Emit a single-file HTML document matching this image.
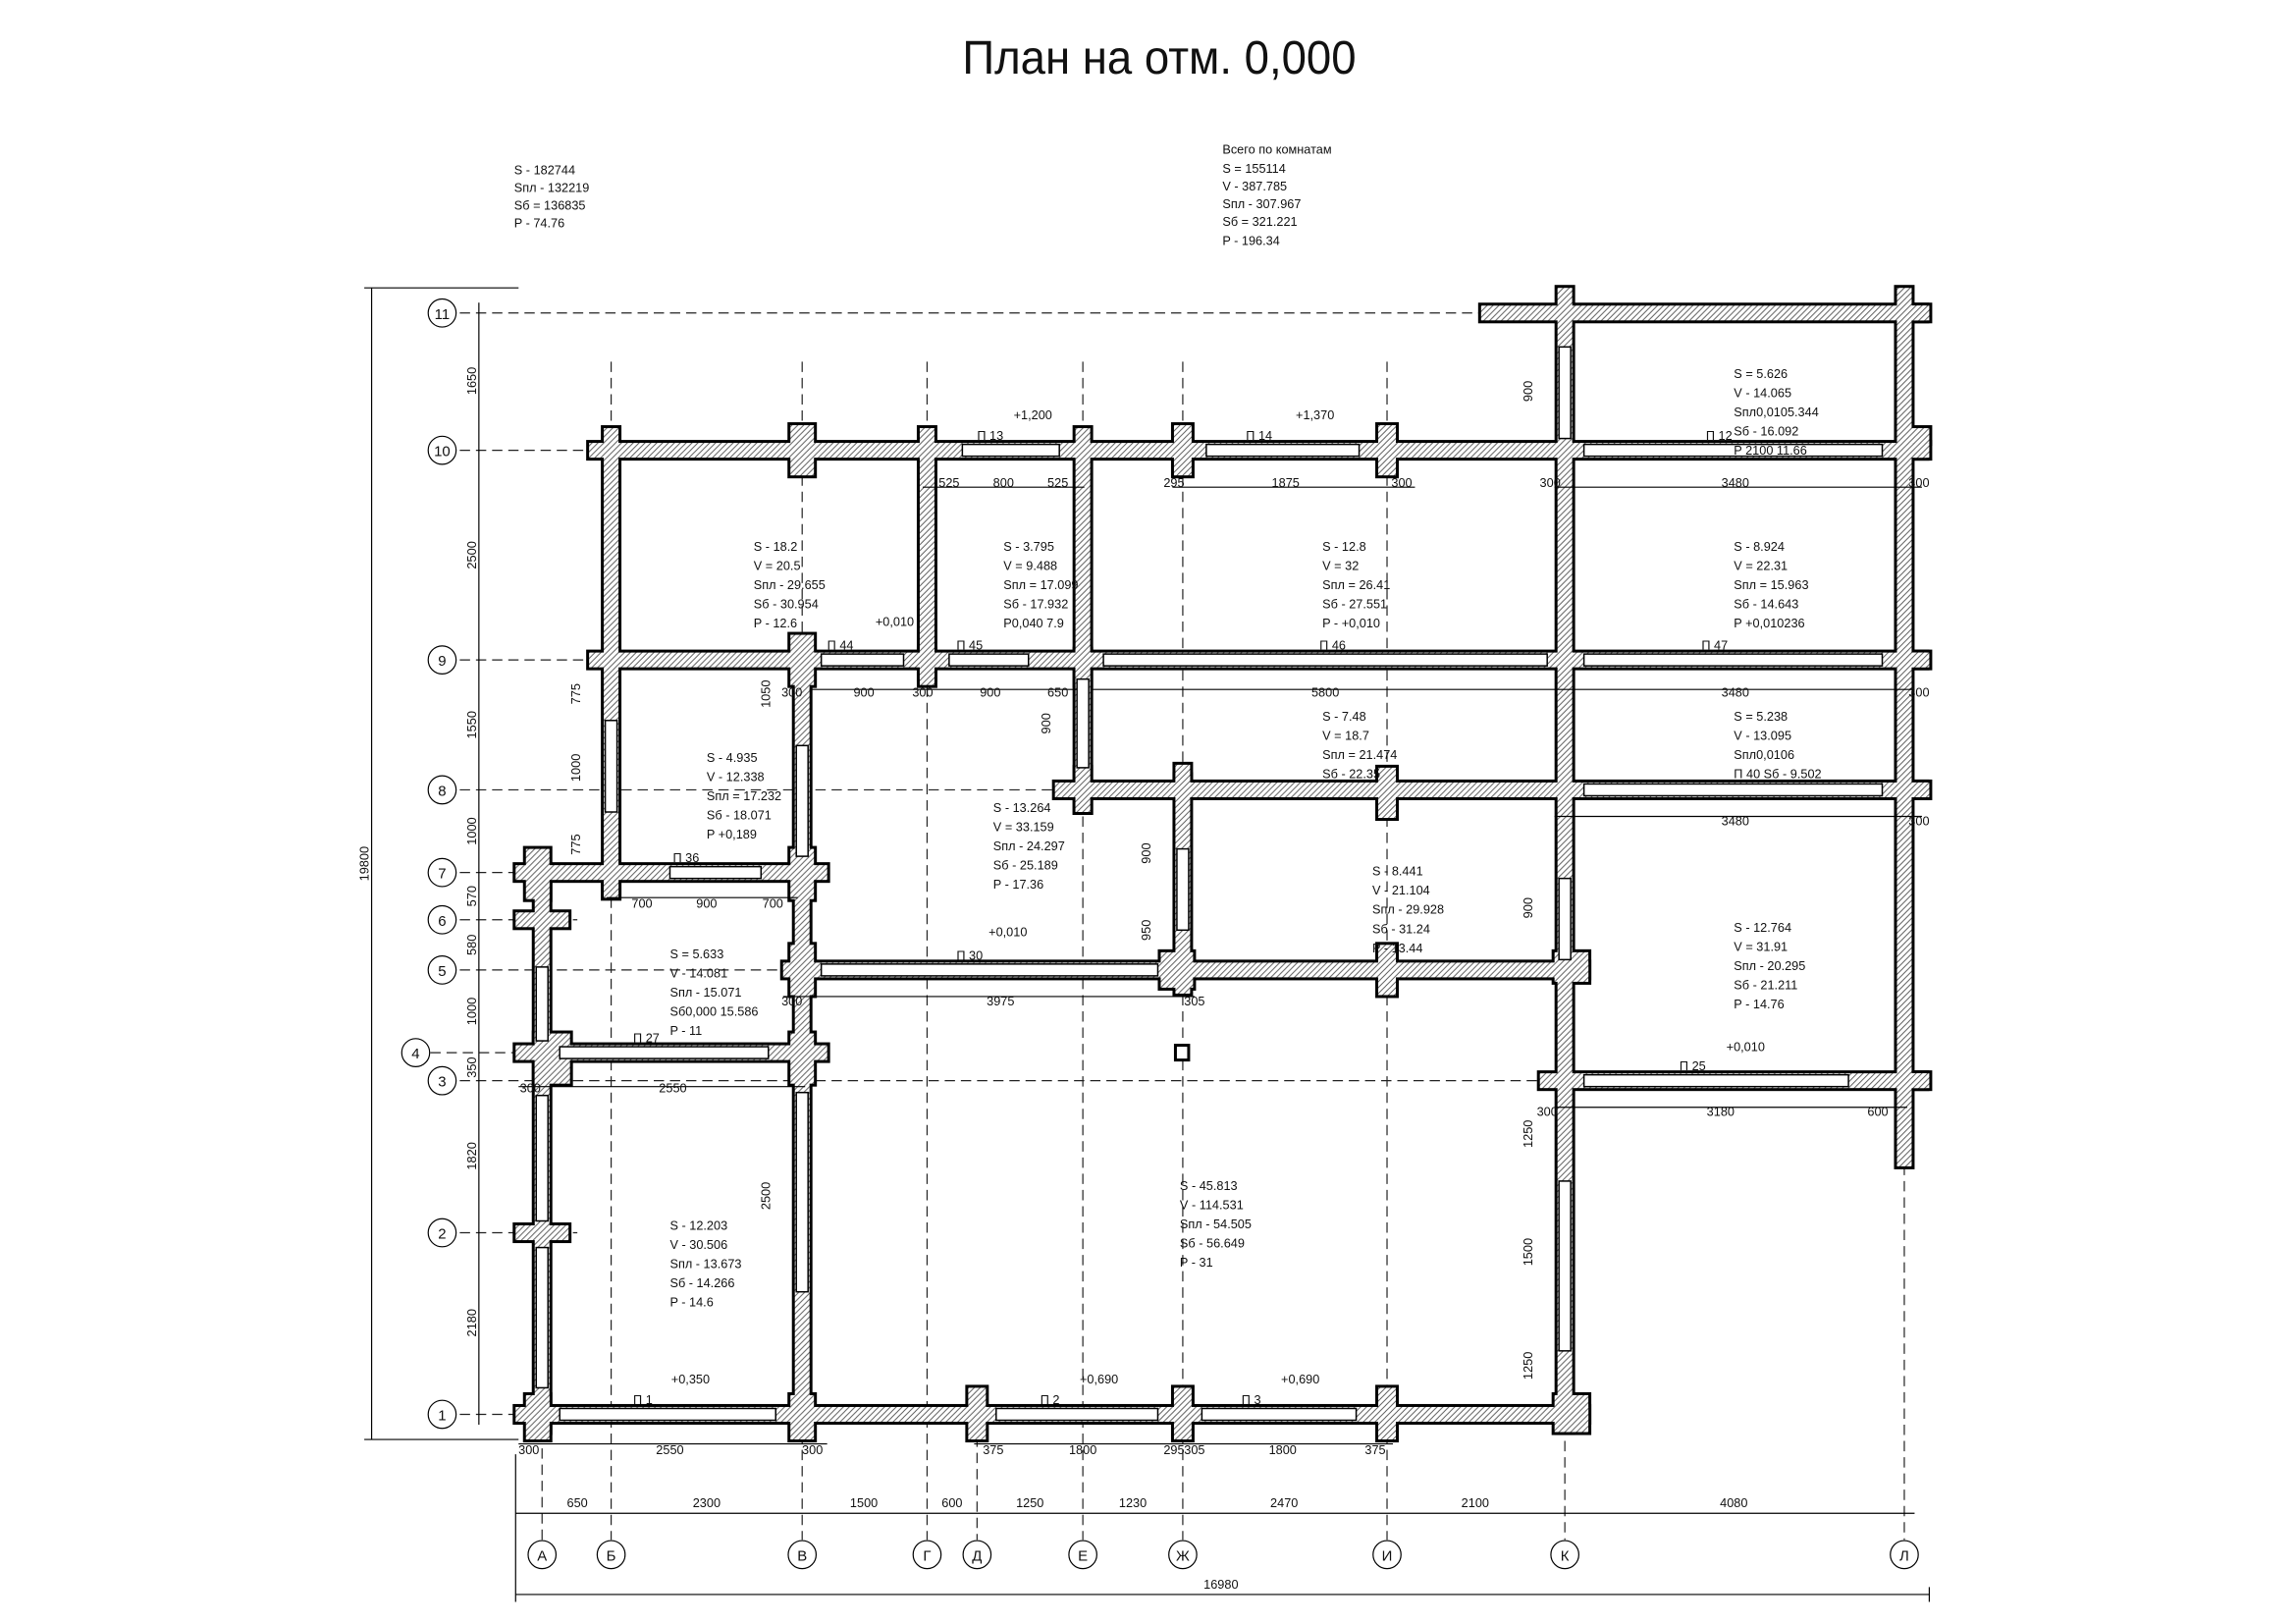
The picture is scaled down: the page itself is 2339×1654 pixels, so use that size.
<!DOCTYPE html>
<html><head><meta charset="utf-8"><style>
html,body{margin:0;padding:0;background:#fff;}
svg{display:block}
text{font-family:"Liberation Sans Narrow","Liberation Sans",sans-serif;fill:#111;}
</style></head><body>
<svg width="2339" height="1654" viewBox="0 0 1549 1100" preserveAspectRatio="none" xmlns="http://www.w3.org/2000/svg">
<defs>
<pattern id="h" patternUnits="userSpaceOnUse" width="4" height="4">
<rect width="4" height="4" fill="#fff"/>
<path d="M-1,1 L1,-1 M0,4 L4,0 M3,5 L5,3" stroke="#555" stroke-width="0.6"/>
</pattern>
<g id="w">
<rect x="398" y="300" width="910" height="10"/>
<rect x="1005" y="207" width="303" height="10"/>
<rect x="398" y="442" width="910" height="10"/>
<rect x="715" y="530" width="593" height="10"/>
<rect x="348" y="586" width="212" height="10"/>
<rect x="530" y="652" width="548" height="10"/>
<rect x="348" y="708" width="212" height="10"/>
<rect x="1045" y="727" width="263" height="10"/>
<rect x="348" y="953" width="730" height="10"/>
<rect x="408" y="290" width="10" height="318"/>
<rect x="538" y="440" width="10" height="530"/>
<rect x="361" y="586" width="10" height="384"/>
<rect x="623" y="290" width="10" height="170"/>
<rect x="729" y="290" width="10" height="260"/>
<rect x="797" y="525" width="10" height="148"/>
<rect x="1057" y="195" width="10" height="775"/>
<rect x="1288" y="195" width="10" height="595"/>
<rect x="535" y="288" width="16" height="34"/>
<rect x="935" y="288" width="12" height="34"/>
<rect x="796" y="288" width="12" height="34"/>
<rect x="1288" y="290" width="22" height="10"/>
<rect x="1288" y="442" width="22" height="10"/>
<rect x="1288" y="530" width="22" height="10"/>
<rect x="1288" y="727" width="22" height="10"/>
<rect x="1288" y="207" width="22" height="10"/>
<rect x="1300" y="300" width="10" height="10"/>
<rect x="535" y="430" width="16" height="34"/>
<rect x="623" y="440" width="10" height="24"/>
<rect x="729" y="440" width="10" height="24"/>
<rect x="935" y="520" width="12" height="34"/>
<rect x="797" y="518" width="10" height="20"/>
<rect x="729" y="520" width="10" height="30"/>
<rect x="408" y="590" width="10" height="18"/>
<rect x="535" y="575" width="16" height="34"/>
<rect x="355" y="575" width="16" height="34"/>
<rect x="348" y="618" width="36" height="10"/>
<rect x="535" y="640" width="16" height="34"/>
<rect x="787" y="645" width="22" height="24"/>
<rect x="935" y="640" width="12" height="34"/>
<rect x="1055" y="645" width="23" height="20"/>
<rect x="535" y="700" width="16" height="34"/>
<rect x="361" y="700" width="24" height="34"/>
<rect x="348" y="830" width="36" height="10"/>
<rect x="355" y="945" width="16" height="30"/>
<rect x="535" y="945" width="16" height="30"/>
<rect x="656" y="940" width="12" height="35"/>
<rect x="796" y="940" width="12" height="35"/>
<rect x="935" y="940" width="12" height="35"/>
<rect x="1055" y="945" width="23" height="25"/>
</g>
</defs>

<g transform="matrix(0.9914 0 0 1 2.86 0)">
<text x="786" y="50" font-size="32" text-anchor="middle" textLength="268" lengthAdjust="spacingAndGlyphs" fill="#444">План на отм. 0,000</text>

<g font-size="8.5">
<text x="347" y="118">S  -  182744</text>
<text x="347" y="130">Sпл -  132219</text>
<text x="347" y="142">Sб  =  136835</text>
<text x="347" y="154">P  -  74.76</text>
<text x="829" y="104">Всего по комнатам</text>
<text x="829" y="117">S  =  155114</text>
<text x="829" y="129">V  -  387.785</text>
<text x="829" y="141">Sпл -  307.967</text>
<text x="829" y="153">Sб  =  321.221</text>
<text x="829" y="166">P  -  196.34</text>
</g>

<g stroke="#222" stroke-width="0.8" stroke-dasharray="7,4" fill="none">
<line x1="310" y1="212" x2="1300" y2="212"/>
<line x1="310" y1="305" x2="1310" y2="305"/>
<line x1="310" y1="447" x2="1310" y2="447"/>
<line x1="310" y1="535" x2="1310" y2="535"/>
<line x1="310" y1="591" x2="560" y2="591"/>
<line x1="310" y1="623" x2="390" y2="623"/>
<line x1="310" y1="657" x2="1080" y2="657"/>
<line x1="290" y1="713" x2="560" y2="713"/>
<line x1="310" y1="732" x2="1310" y2="732"/>
<line x1="310" y1="835" x2="390" y2="835"/>
<line x1="310" y1="958" x2="1080" y2="958"/>
<line x1="366" y1="585" x2="366" y2="1043"/>
<line x1="413" y1="245" x2="413" y2="1043"/>
<line x1="543" y1="245" x2="543" y2="1043"/>
<line x1="628" y1="245" x2="628" y2="1043"/>
<line x1="662" y1="940" x2="662" y2="1043"/>
<line x1="734" y1="245" x2="734" y2="1043"/>
<line x1="802" y1="245" x2="802" y2="1043"/>
<line x1="941" y1="245" x2="941" y2="1043"/>
<line x1="1062" y1="195" x2="1062" y2="1043"/>
<line x1="1293" y1="745" x2="1293" y2="1043"/>
</g>

<use href="#w" fill="#000" stroke="#000" stroke-width="4"/>
<use href="#w" fill="url(#h)"/>

<g fill="#fff" stroke="#000" stroke-width="1">
<rect x="652" y="301" width="66" height="8"/>
<rect x="818" y="301" width="104" height="8"/>
<rect x="1075" y="301" width="203" height="8"/>
<rect x="556" y="443" width="56" height="8"/>
<rect x="643" y="443" width="54" height="8"/>
<rect x="748" y="443" width="302" height="8"/>
<rect x="1075" y="443" width="203" height="8"/>
<rect x="1075" y="531" width="203" height="8"/>
<rect x="1075" y="728" width="180" height="8"/>
<rect x="453" y="587" width="62" height="8"/>
<rect x="378" y="709" width="142" height="8"/>
<rect x="556" y="653" width="229" height="8"/>
<rect x="378" y="954" width="147" height="8"/>
<rect x="675" y="954" width="110" height="8"/>
<rect x="815" y="954" width="105" height="8"/>
<rect x="409" y="488" width="8" height="62"/>
<rect x="362" y="655" width="8" height="50"/>
<rect x="362" y="742" width="8" height="85"/>
<rect x="362" y="845" width="8" height="95"/>
<rect x="539" y="505" width="8" height="75"/>
<rect x="539" y="740" width="8" height="135"/>
<rect x="730" y="460" width="8" height="60"/>
<rect x="798" y="575" width="8" height="55"/>
<rect x="1058" y="235" width="8" height="62"/>
<rect x="1058" y="595" width="8" height="55"/>
<rect x="1058" y="800" width="8" height="115"/>
</g>
<rect x="797" y="708" width="9" height="10" fill="#fff" stroke="#000" stroke-width="2"/>

<g fill="#fff" stroke="#000" stroke-width="0.8">
<circle cx="298" cy="212" r="9.5"/><circle cx="298" cy="305" r="9.5"/>
<circle cx="298" cy="447" r="9.5"/><circle cx="298" cy="535" r="9.5"/>
<circle cx="298" cy="591" r="9.5"/><circle cx="298" cy="623" r="9.5"/>
<circle cx="298" cy="657" r="9.5"/><circle cx="280" cy="713" r="9.5"/>
<circle cx="298" cy="732" r="9.5"/><circle cx="298" cy="835" r="9.5"/>
<circle cx="298" cy="958" r="9.5"/>
<circle cx="366" cy="1053" r="9.5"/><circle cx="413" cy="1053" r="9.5"/>
<circle cx="543" cy="1053" r="9.5"/><circle cx="628" cy="1053" r="9.5"/>
<circle cx="662" cy="1053" r="9.5"/><circle cx="734" cy="1053" r="9.5"/>
<circle cx="802" cy="1053" r="9.5"/><circle cx="941" cy="1053" r="9.5"/>
<circle cx="1062" cy="1053" r="9.5"/><circle cx="1293" cy="1053" r="9.5"/>
</g>
<g font-size="10" text-anchor="middle">
<text x="298" y="216">11</text><text x="298" y="309">10</text><text x="298" y="451">9</text>
<text x="298" y="539">8</text><text x="298" y="595">7</text><text x="298" y="627">6</text>
<text x="298" y="661">5</text><text x="280" y="717">4</text><text x="298" y="736">3</text>
<text x="298" y="839">2</text><text x="298" y="962">1</text>
<text x="366" y="1057">А</text><text x="413" y="1057">Б</text><text x="543" y="1057">В</text>
<text x="628" y="1057">Г</text><text x="662" y="1057">Д</text><text x="734" y="1057">Е</text>
<text x="802" y="1057">Ж</text><text x="941" y="1057">И</text><text x="1062" y="1057">К</text>
<text x="1293" y="1057">Л</text>
</g>

<g stroke="#000" stroke-width="0.8" fill="none">
<line x1="348" y1="1025" x2="1300" y2="1025"/>
<line x1="348" y1="1080" x2="1310" y2="1080"/>
<line x1="348" y1="985" x2="348" y2="1085"/>
<line x1="1310" y1="1075" x2="1310" y2="1085"/>
<line x1="323" y1="205" x2="323" y2="965"/>
<line x1="250" y1="195" x2="250" y2="975"/>
<line x1="245" y1="195" x2="350" y2="195"/>
<line x1="245" y1="975" x2="350" y2="975"/>
<line x1="350" y1="978" x2="560" y2="978"/>
<line x1="660" y1="978" x2="945" y2="978"/>
<line x1="548" y1="467" x2="730" y2="467"/>
<line x1="740" y1="467" x2="1300" y2="467"/>
<line x1="625" y1="330" x2="735" y2="330"/>
<line x1="795" y1="330" x2="960" y2="330"/>
<line x1="1055" y1="330" x2="1305" y2="330"/>
<line x1="1055" y1="553" x2="1305" y2="553"/>
<line x1="1055" y1="750" x2="1295" y2="750"/>
<line x1="410" y1="608" x2="540" y2="608"/>
<line x1="350" y1="736" x2="545" y2="736"/>
<line x1="530" y1="675" x2="810" y2="675"/>
</g>
<g font-size="8.5" text-anchor="middle">
<text x="390" y="1021">650</text><text x="478" y="1021">2300</text><text x="585" y="1021">1500</text>
<text x="645" y="1021">600</text><text x="698" y="1021">1250</text><text x="768" y="1021">1230</text>
<text x="871" y="1021">2470</text><text x="1001" y="1021">2100</text><text x="1177" y="1021">4080</text>
<text x="828" y="1076">16980</text>
<text x="357" y="985">300</text><text x="453" y="985">2550</text><text x="550" y="985">300</text>
<text x="673" y="985">375</text><text x="734" y="985">1800</text><text x="796" y="985">295</text>
<text x="810" y="985">305</text><text x="870" y="985">1800</text><text x="933" y="985">375</text>
<text x="643" y="330">525</text><text x="680" y="330">800</text><text x="717" y="330">525</text>
<text x="796" y="330">295</text><text x="872" y="330">1875</text><text x="951" y="330">300</text>
<text x="1052" y="330">300</text><text x="1178" y="330">3480</text><text x="1303" y="330">300</text>
<text x="536" y="472">300</text><text x="585" y="472">900</text><text x="625" y="472">300</text>
<text x="671" y="472">900</text><text x="717" y="472">650</text><text x="899" y="472">5800</text>
<text x="1178" y="472">3480</text><text x="1303" y="472">300</text>
<text x="1178" y="559">3480</text><text x="1303" y="559">300</text>
<text x="434" y="615">700</text><text x="478" y="615">900</text><text x="523" y="615">700</text>
<text x="678" y="681">3975</text><text x="536" y="681">300</text><text x="810" y="681">305</text>
<text x="455" y="740">2550</text><text x="358" y="740">300</text>
<text x="1168" y="756">3180</text><text x="1275" y="756">600</text><text x="1050" y="756">300</text>
<text x="683" y="634">+0,010</text><text x="700" y="284">+1,200</text><text x="892" y="284">+1,370</text>
<text x="606" y="424">+0,010</text><text x="1185" y="712">+0,010</text>
<text x="467" y="937">+0,350</text><text x="745" y="937">+0,690</text><text x="882" y="937">+0,690</text>
</g>
<g font-size="8.5" text-anchor="middle">
<text transform="translate(321,258) rotate(-90)">1650</text>
<text transform="translate(321,376) rotate(-90)">2500</text>
<text transform="translate(321,491) rotate(-90)">1550</text>
<text transform="translate(321,563) rotate(-90)">1000</text>
<text transform="translate(321,607) rotate(-90)">570</text>
<text transform="translate(321,640) rotate(-90)">580</text>
<text transform="translate(321,685) rotate(-90)">1000</text>
<text transform="translate(321,723) rotate(-90)">350</text>
<text transform="translate(321,783) rotate(-90)">1820</text>
<text transform="translate(321,896) rotate(-90)">2180</text>
<text transform="translate(248,585) rotate(-90)">19800</text>
<text transform="translate(1040,768) rotate(-90)">1250</text>
<text transform="translate(1040,848) rotate(-90)">1500</text>
<text transform="translate(1040,925) rotate(-90)">1250</text>
<text transform="translate(1040,615) rotate(-90)">900</text>
<text transform="translate(1040,265) rotate(-90)">900</text>
<text transform="translate(780,578) rotate(-90)">900</text>
<text transform="translate(780,630) rotate(-90)">950</text>
<text transform="translate(521,810) rotate(-90)">2500</text>
<text transform="translate(521,470) rotate(-90)">1050</text>
<text transform="translate(392,470) rotate(-90)">775</text>
<text transform="translate(392,520) rotate(-90)">1000</text>
<text transform="translate(392,572) rotate(-90)">775</text>
<text transform="translate(712,490) rotate(-90)">900</text>
</g>

<g font-size="8.5">
<text x="510" y="373">S  -  18.2</text><text x="510" y="386">V  =  20.5</text><text x="510" y="399">Sпл -  29.655</text><text x="510" y="412">Sб  -  30.954</text><text x="510" y="425">P  -  12.6</text>
<text x="680" y="373">S  -  3.795</text><text x="680" y="386">V  =  9.488</text><text x="680" y="399">Sпл =  17.099</text><text x="680" y="412">Sб  -  17.932</text><text x="680" y="425">P0,040 7.9</text>
<text x="897" y="373">S  -  12.8</text><text x="897" y="386">V  =  32</text><text x="897" y="399">Sпл =  26.41</text><text x="897" y="412">Sб  -  27.551</text><text x="897" y="425">P  -  +0,010</text>
<text x="1177" y="373">S  -  8.924</text><text x="1177" y="386">V  =  22.31</text><text x="1177" y="399">Sпл =  15.963</text><text x="1177" y="412">Sб  -  14.643</text><text x="1177" y="425">P +0,010236</text>
<text x="1177" y="256">S  =  5.626</text><text x="1177" y="269">V  -  14.065</text><text x="1177" y="282">Sпл0,0105.344</text><text x="1177" y="295">Sб  -  16.092</text><text x="1177" y="308">P 2100 11.66</text>
<text x="897" y="488">S  -  7.48</text><text x="897" y="501">V  =  18.7</text><text x="897" y="514">Sпл =  21.474</text><text x="897" y="527">Sб  -  22.35</text>
<text x="1177" y="488">S  =  5.238</text><text x="1177" y="501">V  -  13.095</text><text x="1177" y="514">Sпл0,0106</text><text x="1177" y="527">П 40 Sб - 9.502</text>
<text x="478" y="516">S  -  4.935</text><text x="478" y="529">V  -  12.338</text><text x="478" y="542">Sпл =  17.232</text><text x="478" y="555">Sб  -  18.071</text><text x="478" y="568">P  +0,189</text>
<text x="673" y="550">S  -  13.264</text><text x="673" y="563">V  =  33.159</text><text x="673" y="576">Sпл -  24.297</text><text x="673" y="589">Sб  -  25.189</text><text x="673" y="602">P  -  17.36</text>
<text x="931" y="593">S  -  8.441</text><text x="931" y="606">V  -  21.104</text><text x="931" y="619">Sпл -  29.928</text><text x="931" y="632">Sб  -  31.24</text><text x="931" y="645">P  -  13.44</text>
<text x="1177" y="631">S  -  12.764</text><text x="1177" y="644">V  =  31.91</text><text x="1177" y="657">Sпл -  20.295</text><text x="1177" y="670">Sб  -  21.211</text><text x="1177" y="683">P  -  14.76</text>
<text x="453" y="649">S  =  5.633</text><text x="453" y="662">V  -  14.081</text><text x="453" y="675">Sпл -  15.071</text><text x="453" y="688">Sб0,000 15.586</text><text x="453" y="701">P  -  11</text>
<text x="453" y="833">S  -  12.203</text><text x="453" y="846">V  -  30.506</text><text x="453" y="859">Sпл -  13.673</text><text x="453" y="872">Sб  -  14.266</text><text x="453" y="885">P  -  14.6</text>
<text x="800" y="806">S  -  45.813</text><text x="800" y="819">V  -  114.531</text><text x="800" y="832">Sпл -  54.505</text><text x="800" y="845">Sб  -  56.649</text><text x="800" y="858">P  -  31</text>
<text x="560" y="440">П 44</text><text x="648" y="440">П 45</text><text x="895" y="440">П 46</text><text x="1155" y="440">П 47</text>
<text x="662" y="298">П 13</text><text x="845" y="298">П 14</text><text x="1158" y="298">П 12</text>
<text x="455" y="584">П 36</text><text x="428" y="706">П 27</text><text x="648" y="650">П 30</text><text x="1140" y="725">П 25</text>
<text x="428" y="951">П 1</text><text x="705" y="951">П 2</text><text x="842" y="951">П 3</text>
</g>
</g>
</svg>
</body></html>
